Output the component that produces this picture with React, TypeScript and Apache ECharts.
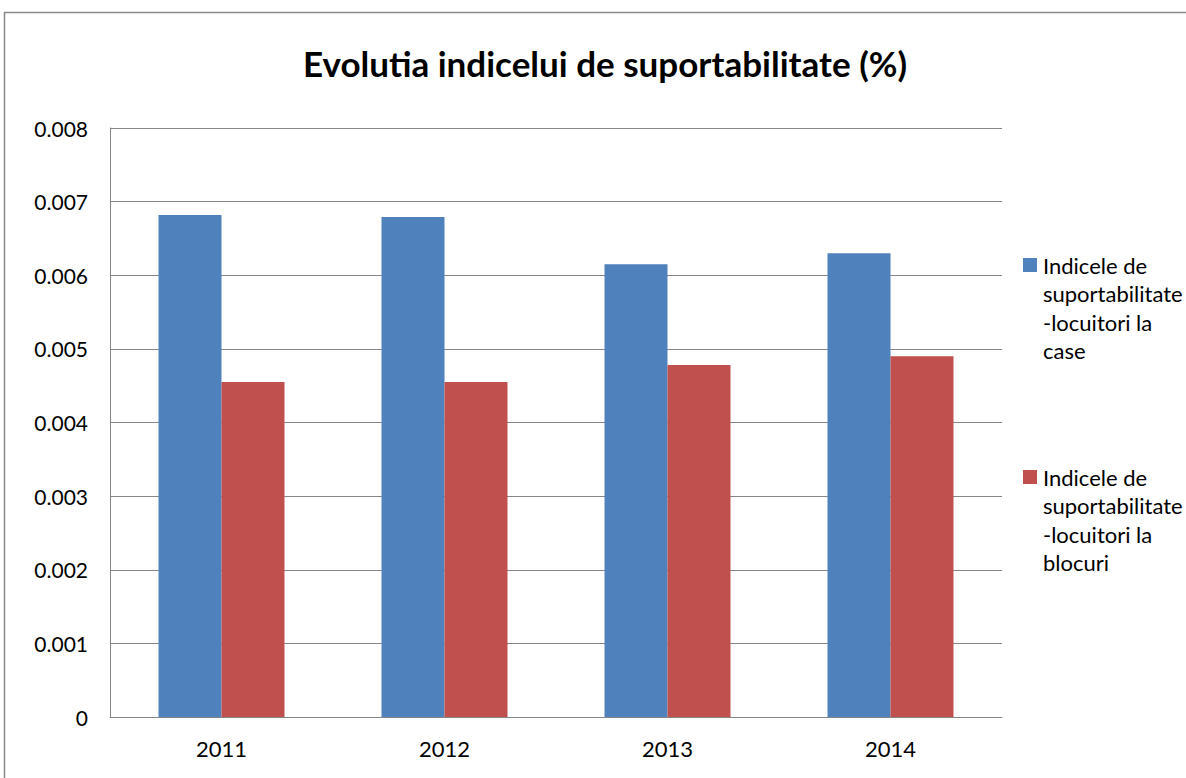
import React, { useEffect, useRef } from "react";
import * as echarts from "echarts";

const title = "Evolutia indicelui de suportabilitate (%)";
const categories = ["2011", "2012", "2013", "2014"];
const seriesNames = [
  "Indicele de suportabilitate -locuitori la case",
  "Indicele de suportabilitate -locuitori la blocuri",
];
const legendLines = [
  ["Indicele de", "suportabilitate", "-locuitori la", "case"],
  ["Indicele de", "suportabilitate", "-locuitori la", "blocuri"],
];
const caseValues = [0.00682, 0.00679, 0.00615, 0.0063];
const blocuriValues = [0.00455, 0.00455, 0.00478, 0.0049];
const colors = ["#4F81BD", "#C0504D"];

export default function App() {
  const ref = useRef<HTMLDivElement>(null);
  useEffect(() => {
    if (!ref.current) return;
    const chart = echarts.init(ref.current, null, { renderer: "svg" });
    const font = "Lato, 'Open Sans', sans-serif";
    const legendGraphics: any[] = [];
    const legendTops = [258, 470];
    legendLines.forEach((lines, i) => {
      legendGraphics.push({
        type: "rect",
        shape: { x: 1023, y: legendTops[i], width: 14, height: 14 },
        style: { fill: colors[i] },
      });
      legendGraphics.push({
        type: "text",
        x: 1043,
        y: legendTops[i] - 7,
        style: {
          text: lines.join("\n"),
          fontSize: 22,
          fontFamily: font,
          lineHeight: 28.5,
          fill: "#000",
        },
      });
    });
    chart.setOption({
      animation: false,
      backgroundColor: "#fff",
      title: {
        text: title,
        left: 600,
        textAlign: "center",
        top: 40,
        textStyle: { fontFamily: font, fontSize: 35, fontWeight: "bold", color: "#000" },
      },
      grid: { left: 110, top: 128, right: 184, bottom: 61, containLabel: false },
      xAxis: {
        type: "category",
        data: categories,
        axisLine: { lineStyle: { color: "#868686" } },
        axisTick: { show: false },
        axisLabel: { fontFamily: font, fontSize: 22, color: "#000", margin: 20 },
      },
      yAxis: {
        type: "value",
        min: 0,
        max: 0.008,
        interval: 0.001,
        axisLine: { show: true, lineStyle: { color: "#868686" } },
        axisTick: { show: false },
        splitLine: { lineStyle: { color: "#868686" } },
        axisLabel: {
          fontFamily: font,
          fontSize: 21,
          color: "#000",
          margin: 22,
          formatter: (v: number) => (v === 0 ? "0" : v.toFixed(3)),
        },
      },
      series: [
        {
          name: seriesNames[0],
          type: "bar",
          data: caseValues,
          itemStyle: { color: colors[0] },
          barGap: "0%",
          barCategoryGap: "43.5%",
        },
        {
          name: seriesNames[1],
          type: "bar",
          data: blocuriValues,
          itemStyle: { color: colors[1] },
          barGap: "0%",
          barCategoryGap: "43.5%",
        },
      ],
      graphic: [
        {
          type: "rect",
          shape: { x: 4.5, y: 12.5, width: 1200, height: 800 },
          style: { fill: "none", stroke: "#888", lineWidth: 1.5 },
        },
        ...legendGraphics,
      ],
    });
    return () => chart.dispose();
  }, []);
  return (
    <div
      ref={ref}
      style={{ position: "fixed", left: 0, top: 0, width: 1186, height: 778 }}
    />
  );
}
